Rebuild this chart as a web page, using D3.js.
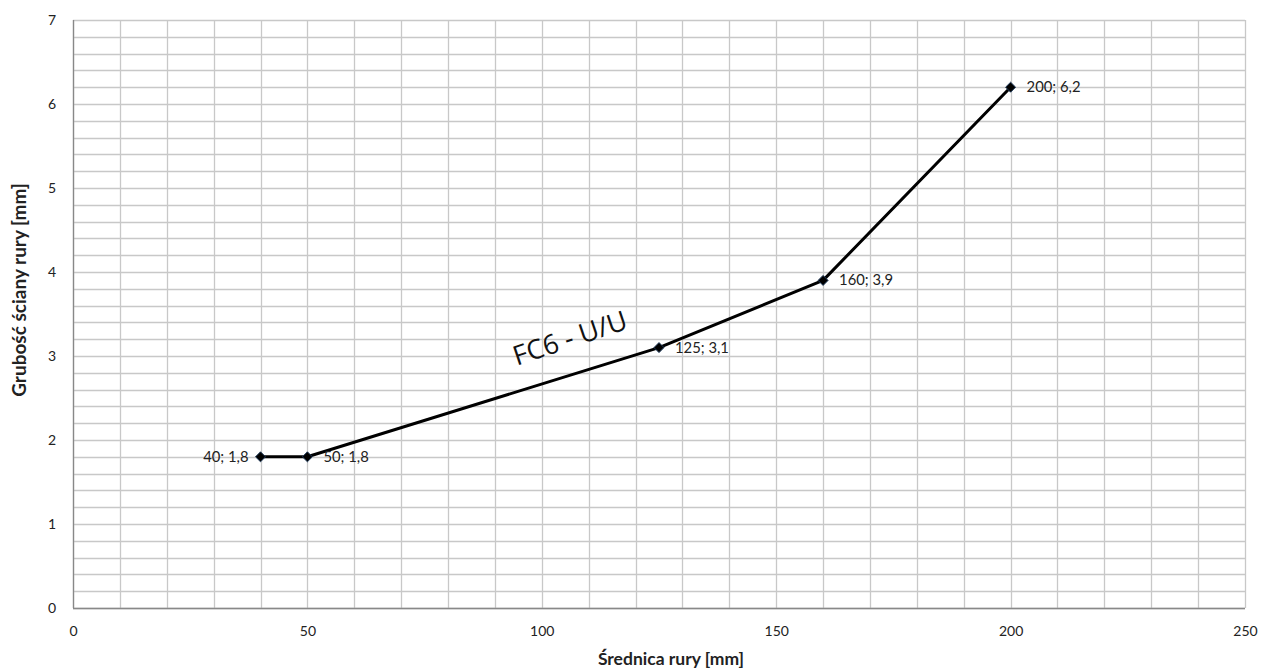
<!DOCTYPE html>
<html><head><meta charset="utf-8">
<script src="https://cdn.jsdelivr.net/npm/d3@7"></script>
<style>body{margin:0;background:#fff}svg{display:block;font-family:Lato,"Open Sans",sans-serif}</style>
</head><body><svg id="c" width="1262" height="671"></svg>
<script>
const xValues = [40, 50, 125, 160, 200];
const yValues = [1.8, 1.8, 3.1, 3.9, 6.2];
const pointLabels = ["40; 1,8", "50; 1,8", "125; 3,1", "160; 3,9", "200; 6,2"];
const xTicks = [0, 50, 100, 150, 200, 250];
const yTicks = [0, 1, 2, 3, 4, 5, 6, 7];
const xTitle = "Średnica rury [mm]";
const yTitle = "Grubość ściany rury [mm]";
const annotation = "FC6 - U/U";

const svg = d3.select("#c");
const L = 73, R = 1245, T = 20, B = 608;
const x = d3.scaleLinear().domain([0, 250]).range([L, R]);
const y = d3.scaleLinear().domain([0, 7]).range([B, T]);

const g = svg.append("g");
d3.range(0, 7.0001, 0.2).forEach(v => {
  g.append("line").attr("x1", L).attr("x2", R).attr("y1", Math.round(y(v)) + 0.5).attr("y2", Math.round(y(v)) + 0.5)
    .attr("stroke", "#c8c8c8").attr("stroke-width", 1.3);
});
d3.range(0, 250.001, 10).forEach(v => {
  g.append("line").attr("y1", T).attr("y2", B).attr("x1", Math.round(x(v)) + 0.5).attr("x2", Math.round(x(v)) + 0.5)
    .attr("stroke", "#c8c8c8").attr("stroke-width", 1.3);
});
g.append("line").attr("x1", L + 0.5).attr("x2", L + 0.5).attr("y1", T).attr("y2", B).attr("stroke", "#888").attr("stroke-width", 1.3);
g.append("line").attr("x1", L).attr("x2", R).attr("y1", B + 0.5).attr("y2", B + 0.5).attr("stroke", "#888").attr("stroke-width", 1.3);

const xa = svg.append("g").attr("transform", `translate(0,${B})`)
  .call(d3.axisBottom(x).tickValues(xTicks).tickSize(0).tickPadding(18).tickFormat(d3.format("d")));
xa.select(".domain").remove();
xa.selectAll("text").attr("font-size", 14).attr("fill", "#222").attr("font-family", "Lato, sans-serif");
const ya = svg.append("g").attr("transform", `translate(${L},0)`)
  .call(d3.axisLeft(y).tickValues(yTicks).tickSize(0).tickPadding(17).tickFormat(d3.format("d")));
ya.select(".domain").remove();
ya.selectAll("text").attr("font-size", 14).attr("fill", "#222").attr("font-family", "Lato, sans-serif");

const pts = xValues.map((v, i) => [v, yValues[i]]);
svg.append("path").datum(pts)
  .attr("d", d3.line().x(d => x(d[0])).y(d => y(d[1])))
  .attr("fill", "none").attr("stroke", "#000").attr("stroke-width", 3).attr("stroke-linejoin", "round");

svg.selectAll(".m").data(pts).join("path")
  .attr("transform", d => `translate(${x(d[0])},${y(d[1])})`)
  .attr("d", d3.symbol(d3.symbolDiamond2, 64))
  .attr("fill", "#000").attr("stroke", "#1f3a5a").attr("stroke-width", 1);

svg.selectAll(".pl").data(pts).join("text")
  .attr("x", (d, i) => i === 0 ? x(d[0]) - 12 : x(d[0]) + 16)
  .attr("y", d => y(d[1]) + 5)
  .attr("text-anchor", (d, i) => i === 0 ? "end" : "start")
  .attr("font-size", 14.8).attr("fill", "#222")
  .text((d, i) => pointLabels[i]);

svg.append("text").attr("transform", `translate(573,347) rotate(-18.5)`)
  .attr("text-anchor", "middle").attr("font-size", 27).attr("fill", "#111").attr("font-family", "'Open Sans', sans-serif")
  .text(annotation);

svg.append("text").attr("x", 671).attr("y", 665).attr("text-anchor", "middle")
  .attr("font-size", 17.5).attr("font-weight", "bold").attr("fill", "#222").text(xTitle);
svg.append("text").attr("transform", `translate(26,290) rotate(-90)`).attr("text-anchor", "middle")
  .attr("font-size", 19).attr("font-weight", "bold").attr("fill", "#222").text(yTitle);
</script></body></html>
